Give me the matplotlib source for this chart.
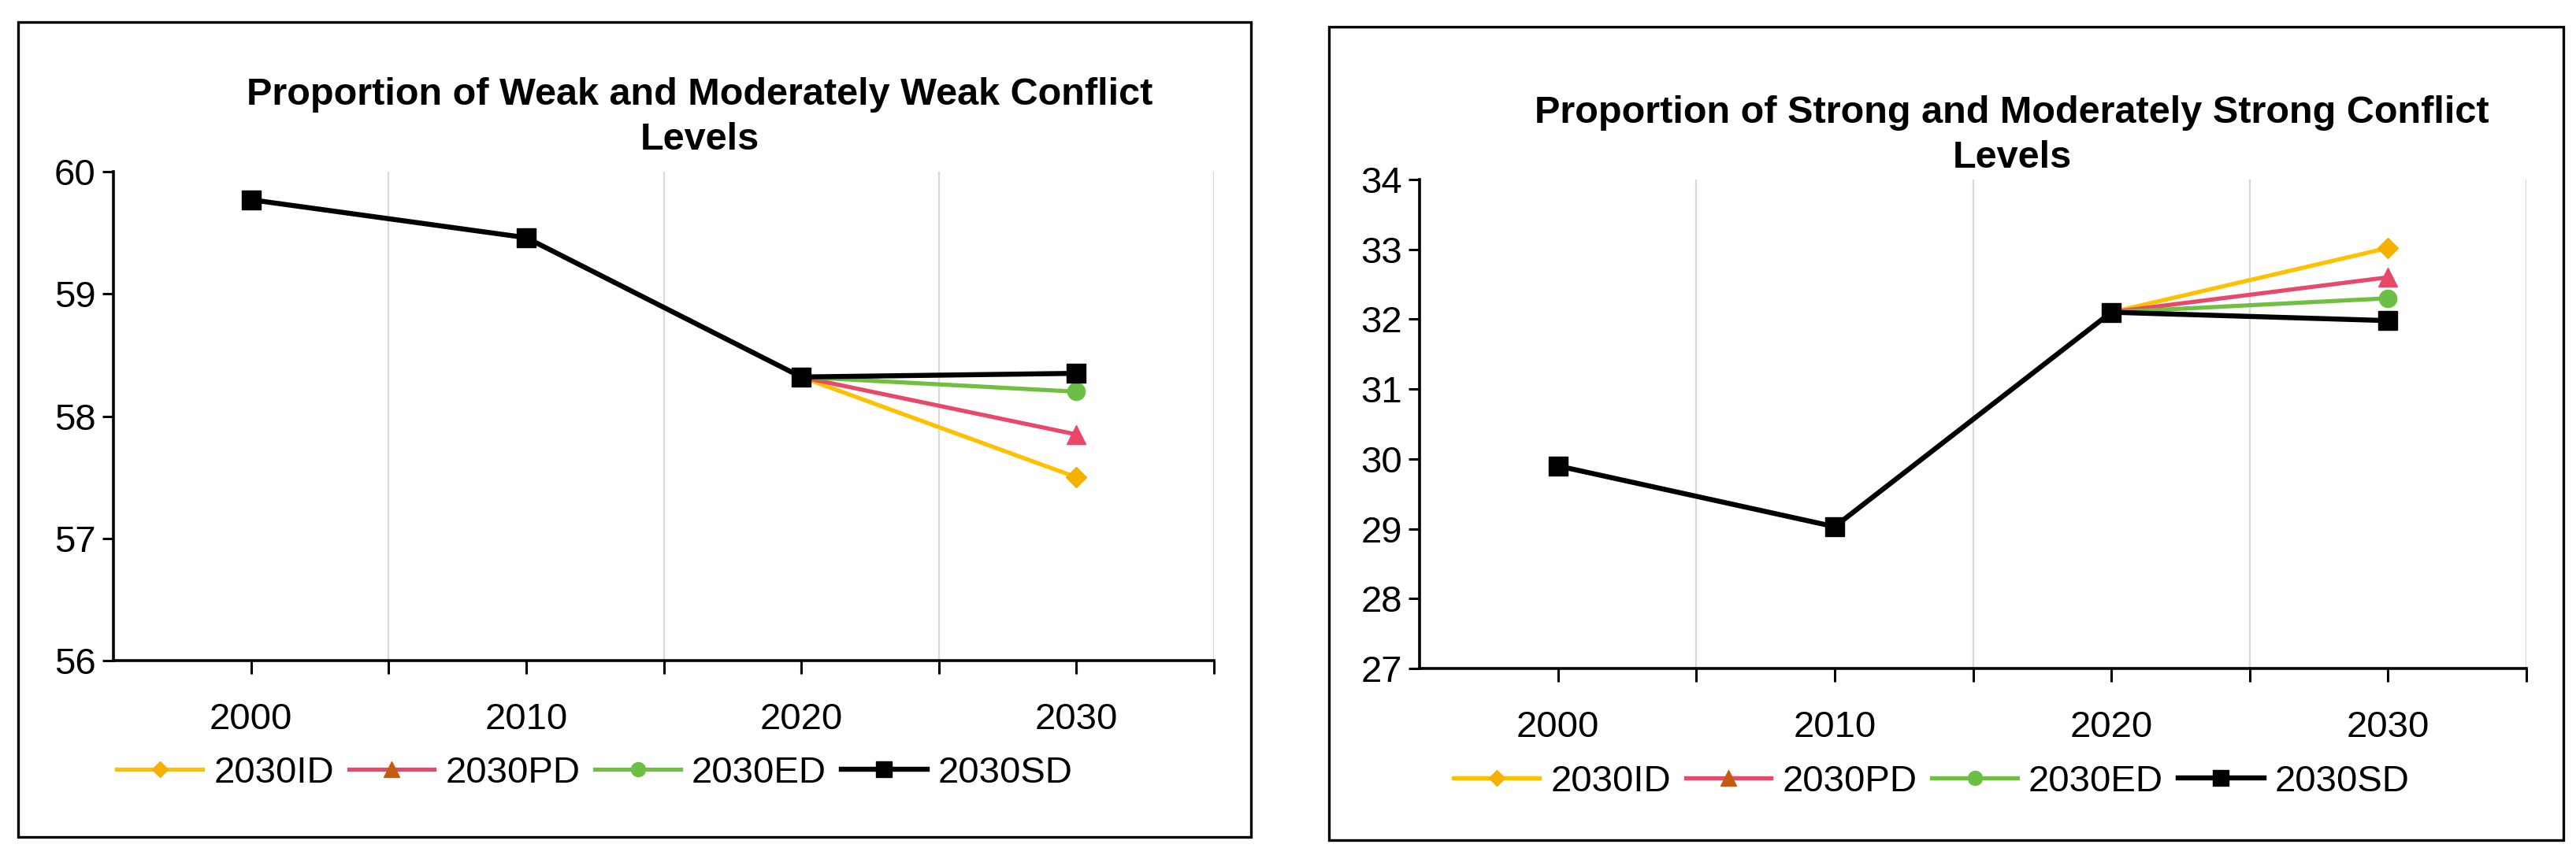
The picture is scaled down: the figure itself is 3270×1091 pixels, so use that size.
import matplotlib
matplotlib.use("Agg")
import matplotlib.pyplot as plt
from matplotlib.lines import Line2D
from matplotlib.patches import Rectangle

plt.rcParams['font.family'] = ['Liberation Sans Narrow', 'Liberation Sans', 'DejaVu Sans']

# data
years = ["2000", "2010", "2020", "2030"]
names = ["2030ID", "2030PD", "2030ED", "2030SD"]

weak_hist = [59.77, 59.46, 58.32]
weak_2030 = [57.50, 57.85, 58.20, 58.35]   # ID, PD, ED, SD

strong_hist = [29.90, 29.03, 32.10]
strong_2030 = [33.02, 32.60, 32.30, 31.98]  # ID, PD, ED, SD

line_cols = ["#FFC000", "#E8496A", "#70BF41", "#000000"]
mark_cols = ["#F5B000", "#E8496A", "#6DBE45", "#000000"]
legend_mark_cols = ["#F5B000", "#C55A11", "#6DBE45", "#000000"]
markers = ["D", "^", "o", "s"]
msizes = [13, 17, 16, 17]

W, H = 3270, 1091
fig = plt.figure(figsize=(W / 100, H / 100), dpi=100)


def panel(rect, hist, last, ylim, title, title_xy, leg_xy):
    ax = fig.add_axes(rect)
    # scenario lines first, then the black SD on top
    for k in range(4):
        xs = [0, 1, 2, 3] if k == 3 else [2, 3]
        ys = hist + [last[k]] if k == 3 else [hist[2], last[k]]
        lw = 4.6 if k == 3 else 3.8
        ax.plot(xs, ys, color=line_cols[k], lw=lw, zorder=3 + k,
                marker=markers[k], ms=msizes[k], mfc=mark_cols[k], mec=mark_cols[k],
                markevery=[len(xs) - 1] if k < 3 else None)
    ax.set_xlim(-0.5, 3.5)
    ax.set_ylim(*ylim)
    ax.set_yticks(range(ylim[0], ylim[1] + 1))
    ax.set_xticks(range(4))
    ax.set_xticklabels(years)
    ax.set_xticks([0.5, 1.5, 2.5, 3.5], minor=True)
    ax.grid(True, axis='x', which='minor', color='#D9D9D9', lw=1.6)
    ax.tick_params(axis='x', which='major', length=12, width=2.2, pad=26, labelsize=34)
    ax.tick_params(axis='x', which='minor', length=12, width=2.2, direction='out')
    ax.tick_params(axis='y', length=10, width=2.2, labelsize=34, pad=6)
    for s in ['top', 'right']:
        ax.spines[s].set_visible(False)
    for s in ['left', 'bottom']:
        ax.spines[s].set_linewidth(2.6)

    fig.text(title_xy[0], title_xy[1], title, ha='center', va='center',
             fontsize=35, fontweight='bold', linespacing=1.35)

    handles = [Line2D([0], [0], color=line_cols[k], lw=4.6 if k == 3 else 3.8,
                      marker=markers[k], ms=msizes[k] - 3,
                      mfc=legend_mark_cols[k], mec=legend_mark_cols[k]) for k in range(4)]
    fig.legend(handles, names, loc='center', bbox_to_anchor=leg_xy, ncol=4,
               frameon=False, fontsize=34, handlelength=2.3, handletextpad=0.3,
               columnspacing=0.4)
    return ax


panel([144 / W, 1 - 839 / H, (1541 - 144) / W, (839 - 218) / H],
      weak_hist, weak_2030, (56, 60),
      "Proportion of Weak and Moderately Weak Conflict\nLevels",
      (888 / W, 1 - 149 / H), (755 / W, 1 - 982 / H))

panel([1802 / W, 1 - 849 / H, (3207 - 1802) / W, (849 - 228) / H],
      strong_hist, strong_2030, (27, 34),
      "Proportion of Strong and Moderately Strong Conflict\nLevels",
      (2554 / W, 1 - 172 / H), (2452 / W, 1 - 993 / H))

# outer frames around each chart
fig.patches.append(Rectangle((23 / W, 1 - 1063 / H), (1588 - 23) / W, (1063 - 28) / H,
                             transform=fig.transFigure, fill=False, ec='black', lw=2.4))
fig.patches.append(Rectangle((1687 / W, 1 - 1067 / H), (3254 - 1687) / W, (1067 - 34) / H,
                             transform=fig.transFigure, fill=False, ec='black', lw=2.4))

fig.savefig("out.png", dpi=100, facecolor='white')
